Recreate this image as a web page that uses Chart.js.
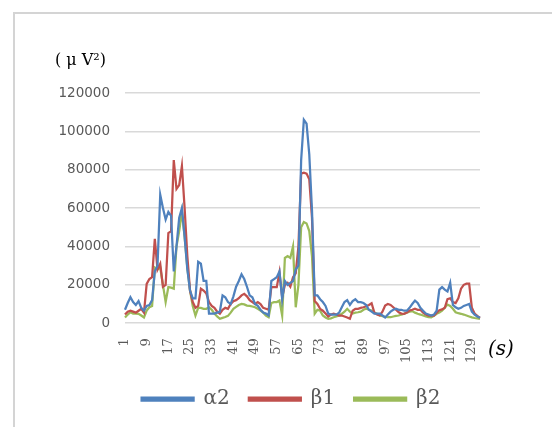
<!DOCTYPE html>
<html>
<head>
<meta charset="utf-8">
<script src="https://cdn.jsdelivr.net/npm/chart.js@4/dist/chart.umd.min.js"></script>
<style>
  html, body { margin: 0; padding: 0; background: #fff; }
  #wrap { width: 552px; height: 427px; position: relative; }
</style>
</head>
<body>
<div id="wrap"><canvas id="c" width="552" height="427"></canvas></div>
<script>
// Time in seconds (category axis)
const seconds = [
  1, 2, 3, 4, 5, 6, 7, 8, 9, 10, 11, 12, 13, 14, 15, 16, 17, 18, 19, 20,
  21, 22, 23, 24, 25, 26, 27, 28, 29, 30, 31, 32, 33, 34, 35, 36, 37, 38, 39, 40,
  41, 42, 43, 44, 45, 46, 47, 48, 49, 50, 51, 52, 53, 54, 55, 56, 57, 58, 59, 60,
  61, 62, 63, 64, 65, 66, 67, 68, 69, 70, 71, 72, 73, 74, 75, 76, 77, 78, 79, 80,
  81, 82, 83, 84, 85, 86, 87, 88, 89, 90, 91, 92, 93, 94, 95, 96, 97, 98, 99, 100,
  101, 102, 103, 104, 105, 106, 107, 108, 109, 110, 111, 112, 113, 114, 115, 116, 117, 118, 119, 120,
  121, 122, 123, 124, 125, 126, 127, 128, 129, 130, 131, 132
];

// Band power, μV²
const alpha2 = [
  7000, 10500, 13500, 11000, 9500, 11500, 8000, 6500, 9000, 9500,
  12000, 27000, 30000, 67000, 60000, 54000, 58000, 56000, 27000, 40000,
  55000, 60000, 45000, 28000, 17000, 13000, 13000, 32000, 31000, 22000,
  22000, 5000, 5000, 5000, 5500, 6000, 14500, 13500, 11000, 10000,
  14000, 19000, 22000, 25500, 23000, 19000, 14500, 13500, 10000, 9000,
  7000, 5500, 5000, 4000, 22000, 23000, 24000, 27000, 12500, 22000,
  20000, 21000, 22000, 28000, 30000, 85000, 106000, 104000, 88000, 59000,
  14500, 14500, 12500, 11000, 9000, 5000, 4500, 4500, 4500, 5500,
  8300, 11000, 12000, 9500, 11500, 12500, 11000, 11000, 10500, 9500,
  7000, 6000, 5000, 5000, 5000, 4000, 3000, 4500, 6000, 7000,
  7500, 7000, 7000, 6500, 6500, 8000, 10000, 11800, 10500, 8000,
  6500, 5000, 4500, 4000, 4500, 6500, 17500, 18800, 17500, 16500,
  21000, 9500, 8300, 7500, 8000, 9000, 9500, 10000, 6000, 4500,
  3500, 2800
];

const beta1 = [
  4500, 6000, 6500, 6000, 5500, 6500, 7500, 5500, 20500, 23000,
  24000, 44000, 28000, 31000, 19000, 20000, 47000, 48000, 85000, 70000,
  72000, 82000, 60000, 35000, 17000, 11000, 8000, 9000, 18000, 17000,
  15500, 11000, 9000, 8000, 6000, 5000, 7000, 8000, 7500, 10000,
  11500, 12000, 13000, 14500, 15300, 14000, 12000, 11000, 10000, 11000,
  10000, 8000, 7500, 7000, 18800, 18800, 18800, 26500, 13500, 20000,
  21000, 19000, 24000, 26000, 40000, 78000, 78500, 78000, 75000, 55000,
  11500, 10000, 7500, 6500, 5000, 3500, 4500, 5000, 4500, 4000,
  4000, 3500, 3000, 2300, 6500, 7500, 7500, 8000, 8300, 8800,
  9500, 10400, 5500, 4500, 4000, 6000, 9200, 10000, 9500, 8300,
  7000, 5700, 5000, 4900, 5500, 6600, 7000, 7500, 7000, 7000,
  5500, 4500, 4000, 4000, 4000, 5500, 6800, 7200, 8000, 12500,
  13000, 11000, 10500, 13000, 18000, 20000, 20600, 20600, 8000, 5000,
  3800, 2800
];

const beta2 = [
  3000, 4500, 5700, 5000, 5000, 4900, 4000, 3000, 6600, 8300,
  9000, 29000, 28000, 29000, 20000, 11000, 18800, 18500, 18000, 40000,
  48000, 58000, 45000, 29000, 17000, 9000, 4000, 8000, 8000, 7500,
  7500, 8300, 7000, 5000, 3500, 2300, 2800, 3200, 3800, 5500,
  7500, 8500, 9500, 10000, 9800, 9200, 9000, 8700, 8300, 7500,
  6600, 5500, 4000, 3100, 10500, 11000, 11000, 11800, 4000, 34000,
  35000, 34000, 40000, 8300, 20000, 50000, 52700, 52000, 48000, 35000,
  5000, 7000, 6500, 4000, 3000, 2300, 2500, 3100, 3500, 4000,
  4900, 6000, 7500, 6000, 5000, 5500, 5700, 6000, 7000, 7500,
  7000, 6600, 5500, 4900, 4000, 3600, 3300, 3100, 3100, 3500,
  3800, 4000, 4500, 4900, 5500, 6000, 6300, 5500, 4900, 4500,
  4000, 3500, 3200, 3100, 3800, 4900, 5500, 6500, 8000, 9700,
  9000, 7500, 5700, 5200, 4900, 4500, 4000, 3500, 3000, 2700,
  2500, 2300
];

const yTicks = [0, 20000, 40000, 60000, 80000, 100000, 120000];
const labelStep = 8;
const seriesNames = ['α2', 'β1', 'β2'];
const unitLabel = '( μ V²)';
const timeLabel = '(s)';

// Frame lines and the two axis unit captions
const decor = {
  id: 'decor',
  afterDraw(chart) {
    const ctx = chart.ctx;
    const xs = chart.scales.x;
    const ys = chart.scales.y;
    const base = ys.getPixelForValue(0);
    const top = ys.getPixelForValue(yTicks[yTicks.length - 1]);
    ctx.save();
    ctx.strokeStyle = '#d4d4d4';
    ctx.lineWidth = 2;
    ctx.beginPath();
    ctx.moveTo(14, chart.height + 2);
    ctx.lineTo(14, 13);
    ctx.lineTo(chart.width + 2, 13);
    ctx.stroke();

    ctx.fillStyle = '#000000';
    ctx.textBaseline = 'middle';
    ctx.textAlign = 'left';
    ctx.font = '16px "DejaVu Serif"';
    ctx.fillText(unitLabel, 55, top - 32);
    ctx.font = 'italic 20px "DejaVu Serif"';
    ctx.fillText(timeLabel, xs.right + 8, base + 27);
    ctx.restore();
  }
};

const colors = ['#4f81bd', '#c0504d', '#9bbb59'];
const values = [alpha2, beta1, beta2];

new Chart(document.getElementById('c'), {
  type: 'line',
  data: {
    labels: seconds,
    datasets: values.map((v, k) => ({
      label: seriesNames[k],
      data: v,
      borderColor: colors[k],
      backgroundColor: colors[k],
      borderWidth: 2.25,
      pointRadius: 0,
      tension: 0,
      fill: false
    }))
  },
  options: {
    responsive: false,
    animation: false,
    devicePixelRatio: 1,
    layout: { padding: { left: 30, right: 0, top: 93, bottom: 8 } },
    plugins: {
      tooltip: { enabled: false },
      legend: {
        position: 'bottom',
        labels: {
          boxWidth: 52,
          boxHeight: 3,
          padding: 19,
          color: '#595959',
          font: { family: '"DejaVu Serif"', size: 20 }
        }
      }
    },
    scales: {
      x: {
        offset: false,
        grid: { display: false },
        border: { display: false },
        ticks: {
          autoSkip: false,
          maxRotation: 90,
          minRotation: 90,
          padding: 7,
          color: '#595959',
          font: { family: '"DejaVu Serif"', size: 13 },
          callback: (val, idx) => (idx % labelStep === 0 ? String(seconds[idx]) : null)
        }
      },
      y: {
        min: 0,
        max: 120000,
        afterBuildTicks: s => { s.ticks = yTicks.map(v => ({ value: v })); },
        grid: { color: '#d9d9d9', lineWidth: 1.5, drawTicks: false },
        border: { display: false },
        ticks: {
          padding: 15,
          color: '#595959',
          font: { family: '"DejaVu Sans"', size: 13.5 },
          callback: v => String(v)
        },
        afterFit: s => { s.width = 95; }
      },
      yRight: {
        position: 'right',
        display: true,
        grid: { display: false },
        border: { display: false },
        ticks: { display: false },
        afterFit: s => { s.width = 72; }
      }
    }
  },
  plugins: [decor]
});
</script>
</body>
</html>
